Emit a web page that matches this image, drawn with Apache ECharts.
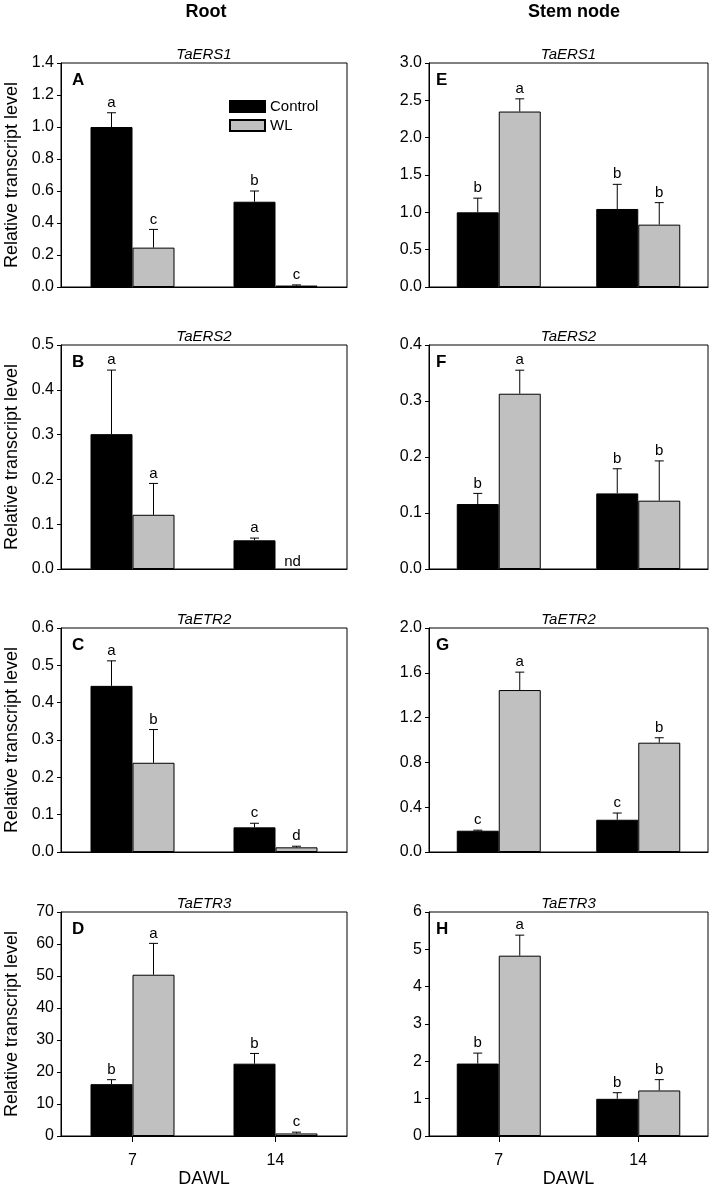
<!DOCTYPE html>
<html>
<head>
<meta charset="utf-8">
<script src="https://cdn.jsdelivr.net/npm/echarts@6/dist/echarts.min.js"></script>
<style>
  html, body { margin: 0; padding: 0; background: #fff; }
  #main { width: 709px; height: 1184px; }
</style>
</head>
<body>
<div id="main"></div>
<script>
// 数据
var categories = ['7', '14'];
var panelIds = ['A', 'B', 'C', 'D', 'E', 'F', 'G', 'H'];
var genes = ['TaERS1', 'TaERS2', 'TaETR2', 'TaETR3', 'TaERS1', 'TaERS2', 'TaETR2', 'TaETR3'];
var controlMeans = [[1.0, 0.533], [0.301, 0.064], [0.445, 0.066], [16.2, 22.6], [1.0, 1.045], [0.116, 0.135], [0.19, 0.288], [1.94, 0.996]];
var controlErrs = [[0.089, 0.067], [0.143, 0.005], [0.067, 0.011], [1.4, 3.2], [0.19, 0.33], [0.019, 0.044], [0.005, 0.06], [0.28, 0.164]];
var wlMeans = [[0.246, 0.009], [0.121, null], [0.239, 0.0125], [50.4, 0.8], [2.35, 0.835], [0.313, 0.122], [1.446, 0.976], [4.83, 1.22]];
var wlErrs = [[0.114, 0.004], [0.07, null], [0.089, 0.003], [9.8, 0.4], [0.17, 0.295], [0.042, 0.071], [0.16, 0.044], [0.55, 0.29]];
var controlLetters = [['a', 'b'], ['a', 'a'], ['a', 'c'], ['b', 'b'], ['b', 'b'], ['b', 'b'], ['c', 'c'], ['b', 'b']];
var wlLetters = [['c', 'c'], ['a', 'nd'], ['b', 'd'], ['a', 'c'], ['a', 'b'], ['a', 'b'], ['a', 'b'], ['a', 'b']];
var yMax = [1.4, 0.5, 0.6, 70, 3.0, 0.4, 2.0, 6];
var yStep = [0.2, 0.1, 0.1, 10, 0.5, 0.1, 0.4, 1];
var yDecimals = [1, 1, 1, 0, 1, 1, 1, 0];

var FONT = 'Liberation Sans, Arial, sans-serif';
var tops = [63, 345, 628, 912];
var plotH = 224;
var colLeft = [61, 429];
var colWidth = [286, 279];
var barW = 42;

var grids = [], xAxes = [], yAxes = [], series = [], graphics = [];

//误差线+显著性字母
function errRenderer(means, errs, letters, side) {
	return function (params, api) {
		var i = params.dataIndex;
		var base = api.coord([i, 0]);
		var x = base[0] + side * barW / 2;
		if (means[i] == null) {
			return {
				type: 'text',
				style: { x: x - 4, y: base[1] - 7, text: letters[i], font: '15px ' + FONT, fill: '#000', align: 'center', verticalAlign: 'middle' }
			};
		}
		var top = api.coord([i, means[i]])[1];
		var et = api.coord([i, means[i] + errs[i]])[1];
		return {
			type: 'group',
			children: [
				{ type: 'line', shape: { x1: x, y1: top, x2: x, y2: et }, style: { stroke: '#000', lineWidth: 1 } },
				{ type: 'line', shape: { x1: x - 4.5, y1: et, x2: x + 4.5, y2: et }, style: { stroke: '#000', lineWidth: 1 } },
				{ type: 'text', style: { x: x, y: et - 10, text: letters[i], font: '15px ' + FONT, fill: '#000', align: 'center', verticalAlign: 'middle' } }
			]
		};
	};
}

for (var p = 0; p < 8; p++) {
	var col = p < 4 ? 0 : 1;
	var row = p % 4;
	var isBottom = row === 3;
	grids.push({
		left: colLeft[col], top: tops[row], width: colWidth[col], height: plotH,
		outerBoundsMode: 'none', containLabel: false,
		show: true, borderColor: '#000', borderWidth: 1, backgroundColor: 'transparent'
	});
	xAxes.push({
		type: 'category', gridIndex: p, data: categories, boundaryGap: true,
		axisLine: { lineStyle: { color: '#000', width: 1 } },
		axisTick: { show: isBottom, alignWithLabel: true, length: 6, lineStyle: { color: '#000' } },
		axisLabel: { show: isBottom, fontSize: 16, color: '#000', fontFamily: FONT, margin: 17 },
		name: isBottom ? 'DAWL' : '', nameLocation: 'middle', nameGap: 31,
		nameTextStyle: { fontSize: 18, color: '#000', fontFamily: FONT }
	});
	(function (dec) {
		yAxes.push({
			type: 'value', gridIndex: p, min: 0, max: yMax[p], interval: yStep[p],
			splitLine: { show: false },
			axisLine: { show: true, lineStyle: { color: '#000', width: 1 } },
			axisTick: { show: true, length: 4, lineStyle: { color: '#000' } },
			axisLabel: { fontSize: 16, color: '#000', fontFamily: FONT, margin: 7,
				formatter: function (v) { return v.toFixed(dec); } },
			name: col === 0 ? 'Relative transcript level' : '', nameLocation: 'middle', nameGap: 40,
			nameTextStyle: { fontSize: 18, color: '#000', fontFamily: FONT }
		});
	})(yDecimals[p]);
	series.push({
		name: 'Control', type: 'bar', xAxisIndex: p, yAxisIndex: p, barWidth: barW, barGap: '0%',
		data: controlMeans[p], itemStyle: { color: '#000', borderColor: '#000', borderWidth: 1 }
	});
	series.push({
		name: 'WL', type: 'bar', xAxisIndex: p, yAxisIndex: p, barWidth: barW, barGap: '0%',
		data: wlMeans[p].map(function (v) { return v == null ? '-' : v; }),
		itemStyle: { color: '#c0c0c0', borderColor: '#000', borderWidth: 1 }
	});
	series.push({
		name: 'err-c-' + p, type: 'custom', xAxisIndex: p, yAxisIndex: p, z: 5,
		data: controlMeans[p].map(function (v, i) { return [i, v || 0]; }),
		renderItem: errRenderer(controlMeans[p], controlErrs[p], controlLetters[p], -1)
	});
	series.push({
		name: 'err-w-' + p, type: 'custom', xAxisIndex: p, yAxisIndex: p, z: 5,
		data: wlMeans[p].map(function (v, i) { return [i, v || 0]; }),
		renderItem: errRenderer(wlMeans[p], wlErrs[p], wlLetters[p], 1)
	});
	//基因名
	graphics.push({
		type: 'text', x: colLeft[col] + colWidth[col] / 2, y: tops[row] - 8,
		style: { text: genes[p], font: 'italic 15px ' + FONT, fill: '#000', align: 'center', verticalAlign: 'middle' }
	});
	//面板字母
	graphics.push({
		type: 'text', x: col === 0 ? 72 : 436, y: tops[row] + 17,
		style: { text: panelIds[p], font: 'bold 17px ' + FONT, fill: '#000', align: 'left', verticalAlign: 'middle' }
	});
}

graphics.push({ type: 'text', x: 206, y: 12, style: { text: 'Root', font: 'bold 18px ' + FONT, fill: '#000', align: 'center', verticalAlign: 'middle' } });
graphics.push({ type: 'text', x: 574, y: 12, style: { text: 'Stem node', font: 'bold 18px ' + FONT, fill: '#000', align: 'center', verticalAlign: 'middle' } });

var chart = echarts.init(document.getElementById('main'), null, { renderer: 'canvas' });
chart.setOption({
	animation: false,
	backgroundColor: '#fff',
	legend: {
		data: ['Control', 'WL'], orient: 'vertical', left: 224, top: 94,
		itemWidth: 35, itemHeight: 11, itemGap: 4, icon: 'rect',
		textStyle: { fontSize: 15, color: '#000', fontFamily: FONT }
	},
	grid: grids,
	xAxis: xAxes,
	yAxis: yAxes,
	series: series,
	graphic: graphics
});
</script>
</body>
</html>
